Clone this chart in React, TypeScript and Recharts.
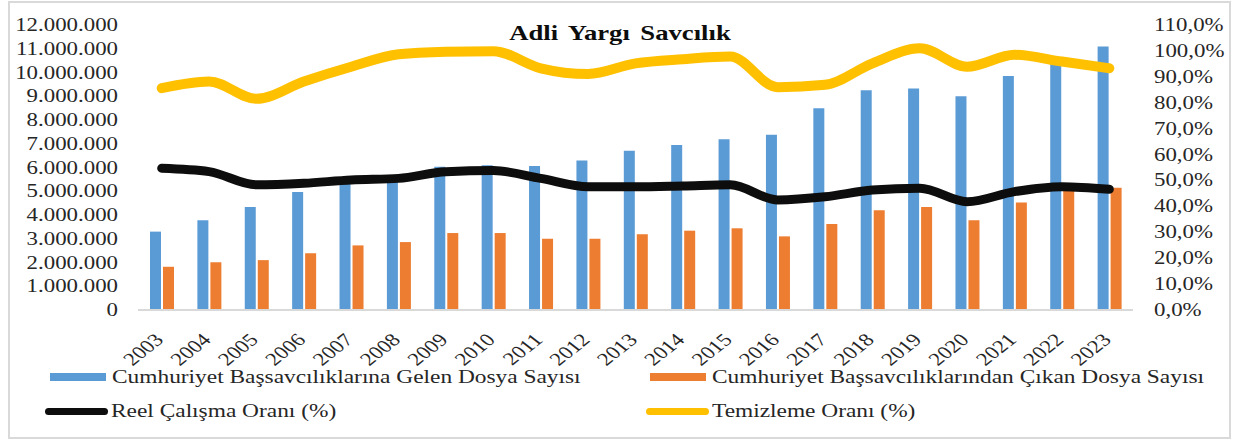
import { ComposedChart, Bar, Line, XAxis, YAxis } from "recharts";

const years = ["2003", "2004", "2005", "2006", "2007", "2008", "2009", "2010", "2011", "2012", "2013", "2014", "2015", "2016", "2017", "2018", "2019", "2020", "2021", "2022", "2023"];
// dosya sayıları (milyon)
const gelen = [3.30, 3.78, 4.34, 4.97, 5.35, 5.55, 6.03, 6.10, 6.06, 6.29, 6.71, 6.95, 7.19, 7.38, 8.49, 9.25, 9.33, 9.00, 9.85, 10.40, 11.09];
const cikan = [1.82, 2.01, 2.10, 2.39, 2.72, 2.86, 3.24, 3.24, 3.00, 3.00, 3.19, 3.34, 3.44, 3.10, 3.62, 4.20, 4.34, 3.78, 4.53, 5.05, 5.15];
// oranlar (%)
const reel = [54.7, 53.4, 48.3, 48.9, 50.2, 50.8, 53.4, 53.8, 50.8, 47.6, 47.6, 47.9, 48.3, 42.5, 43.7, 46.3, 47.0, 41.8, 45.7, 47.6, 46.6];
const temizleme = [85.6, 88.2, 81.5, 88.2, 93.9, 98.7, 99.7, 99.9, 93.3, 91.1, 95.2, 96.8, 97.8, 86.0, 86.9, 95.2, 101.0, 93.9, 98.5, 95.9, 93.3];

const leftTicks = [0, 1, 2, 3, 4, 5, 6, 7, 8, 9, 10, 11, 12].map((v) => v * 1000000);
const rightTicks = [0, 10, 20, 30, 40, 50, 60, 70, 80, 90, 100, 110];

const data = years.map((y, i) => ({
  year: y,
  gelen: gelen[i] * 1000000,
  cikan: cikan[i] * 1000000,
  reel: reel[i],
  temizleme: temizleme[i],
}));

const FONT = "'Liberation Serif', 'Times New Roman', serif";
const SX = 1.27; // yatay esneme
const LEG_SX = 1.23;

const fmtLeft = (v: number) => String(Math.round(v)).replace(/\B(?=(\d{3})+(?!\d))/g, ".");
const fmtRight = (v: number) => v.toFixed(1).replace(".", ",") + "%";

function LeftTick(props: any) {
  const { x, y, payload } = props;
  return (
    <g transform={`translate(${x},${y}) scale(${SX},1)`}>
      <text x={0} y={0} dy={6} textAnchor="end" fontFamily={FONT} fontSize={18} fill="#262626">
        {fmtLeft(payload.value)}
      </text>
    </g>
  );
}

function RightTick(props: any) {
  const { x, y, payload } = props;
  return (
    <g transform={`translate(${x},${y}) scale(${SX},1)`}>
      <text x={0} y={0} dy={6} textAnchor="start" fontFamily={FONT} fontSize={18} fill="#262626">
        {fmtRight(payload.value)}
      </text>
    </g>
  );
}

function YearTick(props: any) {
  const { x, y, payload } = props;
  return (
    <g transform={`translate(${x + 3},${y + 23}) scale(${SX},1) rotate(-45)`}>
      <text x={0} y={0} textAnchor="end" fontFamily={FONT} fontSize={18} fill="#262626">
        {payload.value}
      </text>
    </g>
  );
}

const legendItems = [
  { label: "Cumhuriyet Başsavcılıklarına Gelen Dosya Sayısı", color: "#5b9bd5", kind: "bar", left: 50, top: 377 },
  { label: "Cumhuriyet Başsavcılıklarından Çıkan Dosya Sayısı", color: "#ed7d31", kind: "bar", left: 650, top: 377 },
  { label: "Reel Çalışma Oranı (%)", color: "#0d0d0d", kind: "line", left: 45, top: 411 },
  { label: "Temizleme Oranı (%)", color: "#ffc000", kind: "line", left: 646, top: 411 },
];

export default function App() {
  return (
    <div style={{ position: "absolute", left: 0, top: 0, width: 1243, height: 441, background: "#fff", overflow: "hidden" }}>
      <div style={{ position: "absolute", left: 8, top: 1, width: 1219, height: 434, border: "2px solid #d9d9d9" }} />
      <ComposedChart width={1243} height={441} data={data} margin={{ top: 25, right: 0, bottom: 71, left: 0 }} barSize={11} barGap={2}>
        <XAxis dataKey="year" height={60} tickLine={false} axisLine={{ stroke: "#d9d9d9", strokeWidth: 2 }} tick={<YearTick />} interval={0} />
        <YAxis yAxisId="left" width={138} domain={[0, 12000000]} ticks={leftTicks} axisLine={false} tickLine={false} tickMargin={14} tick={<LeftTick />} interval={0} />
        <YAxis yAxisId="right" orientation="right" width={110} domain={[0, 110]} ticks={rightTicks} axisLine={false} tickLine={false} tickMargin={15} tick={<RightTick />} interval={0} />
        <Bar yAxisId="left" dataKey="gelen" fill="#5b9bd5" isAnimationActive={false} />
        <Bar yAxisId="left" dataKey="cikan" fill="#ed7d31" isAnimationActive={false} />
        <Line yAxisId="right" dataKey="reel" type="monotone" stroke="#0d0d0d" strokeWidth={9} dot={false} strokeLinecap="round" isAnimationActive={false} />
        <Line yAxisId="right" dataKey="temizleme" type="monotone" stroke="#ffc000" strokeWidth={10} dot={false} strokeLinecap="round" isAnimationActive={false} />
      </ComposedChart>
      <div style={{ position: "absolute", left: 620, top: 33, transform: `translate(-50%, -50%) scaleX(${SX})`, fontFamily: FONT, fontWeight: "bold", fontSize: 21, wordSpacing: 3, color: "#0d0d0d", whiteSpace: "nowrap" }}>
        Adli Yargı Savcılık
      </div>
      {legendItems.map((it) => (
        <div key={it.label} style={{ position: "absolute", left: it.left, top: it.top, transform: "translateY(-50%)", display: "flex", alignItems: "center", whiteSpace: "nowrap" }}>
          {it.kind === "bar" ? (
            <div style={{ width: 56, height: 8, background: it.color, marginRight: 6 }} />
          ) : (
            <div style={{ width: 63, height: 7, borderRadius: 4, background: it.color, marginRight: 3 }} />
          )}
          <span style={{ display: "inline-block", transform: `scaleX(${LEG_SX})`, transformOrigin: "left center", fontFamily: FONT, fontSize: 19, color: "#262626", lineHeight: "22px" }}>
            {it.label}
          </span>
        </div>
      ))}
    </div>
  );
}
